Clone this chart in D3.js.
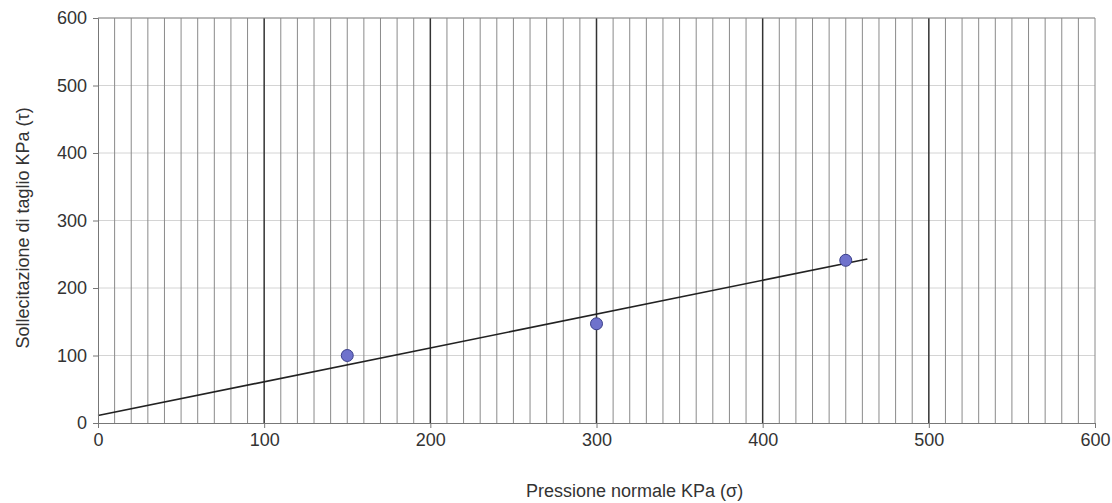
<!DOCTYPE html>
<html>
<head>
<meta charset="utf-8">
<script src="https://d3js.org/d3.v7.min.js"></script>
<style>
  body { margin:0; background:#fff; }
  text { font-family: "Liberation Sans", Arial, sans-serif; }
</style>
</head>
<body>
<script>
// data
var pointsX = [150, 300, 450];
var pointsY = [100, 147, 241];
var trendX = [0, 463];
var trendY = [11, 243];
var xTicks = [0, 100, 200, 300, 400, 500, 600];
var yTicks = [0, 100, 200, 300, 400, 500, 600];

var W = 1112, H = 503;
var svg = d3.select("body").append("svg").attr("width", W).attr("height", H);

var x = d3.scaleLinear().domain([0, 600]).range([98, 1095]);
var y = d3.scaleLinear().domain([0, 600]).range([423, 18]);

var g = svg.append("g");

// horizontal grid
g.selectAll(".hg").data(yTicks.slice(1))
  .enter().append("line")
  .attr("x1", x(0)).attr("x2", x(600))
  .attr("y1", function(d){ return y(d); }).attr("y2", function(d){ return y(d); })
  .attr("stroke", "#d4d4d4").attr("stroke-width", 1);

// vertical grid, every 10
var minor = d3.range(10, 600, 10);
g.selectAll(".vg").data(minor)
  .enter().append("line")
  .attr("x1", function(d){ return x(d); }).attr("x2", function(d){ return x(d); })
  .attr("y1", y(0)).attr("y2", y(600))
  .attr("stroke", function(d){ return d % 100 == 0 ? "#333" : "#8a8a8a"; })
  .attr("stroke-width", function(d){ return d % 100 == 0 ? 1.5 : 1; });

// frame
g.append("line").attr("x1", x(0)).attr("x2", x(600)).attr("y1", y(600)).attr("y2", y(600)).attr("stroke", "#8a8a8a");
g.append("line").attr("x1", x(600)).attr("x2", x(600)).attr("y1", y(0)).attr("y2", y(600)).attr("stroke", "#8a8a8a");

// axes
var xAxis = d3.axisBottom(x).tickValues(xTicks).tickSize(5).tickPadding(5);
var yAxis = d3.axisLeft(y).tickValues(yTicks).tickSize(5).tickPadding(6);

var ax = svg.append("g").attr("transform", "translate(0," + y(0) + ")").call(xAxis);
var ay = svg.append("g").attr("transform", "translate(" + x(0) + ",0)").call(yAxis);
[ax, ay].forEach(function(a){
  a.select(".domain").attr("stroke", "#777");
  a.selectAll(".tick line").attr("stroke", "#777");
  a.selectAll(".tick text").attr("fill", "#333").style("font-size", "18px")
    .style("font-family", "Liberation Sans, Arial, sans-serif");
});

// trend line
g.append("line")
  .attr("x1", x(trendX[0])).attr("y1", y(trendY[0]))
  .attr("x2", x(trendX[1])).attr("y2", y(trendY[1]))
  .attr("stroke", "#222").attr("stroke-width", 1.6);

// points
g.selectAll("circle").data(pointsX)
  .enter().append("circle")
  .attr("cx", function(d){ return x(d); })
  .attr("cy", function(d, i){ return y(pointsY[i]); })
  .attr("r", 6)
  .attr("fill", "#6f72cc")
  .attr("stroke", "#3a3f8a").attr("stroke-width", 1);

// axis titles
svg.append("text")
  .attr("x", 526).attr("y", 497)
  .attr("text-anchor", "start")
  .attr("fill", "#333").style("font-size", "18px")
  .text("Pressione normale KPa (σ)");

svg.append("text")
  .attr("transform", "translate(29,228) rotate(-90)")
  .attr("text-anchor", "middle")
  .attr("fill", "#333").style("font-size", "18px")
  .text("Sollecitazione di taglio KPa (τ)");
</script>
</body>
</html>
